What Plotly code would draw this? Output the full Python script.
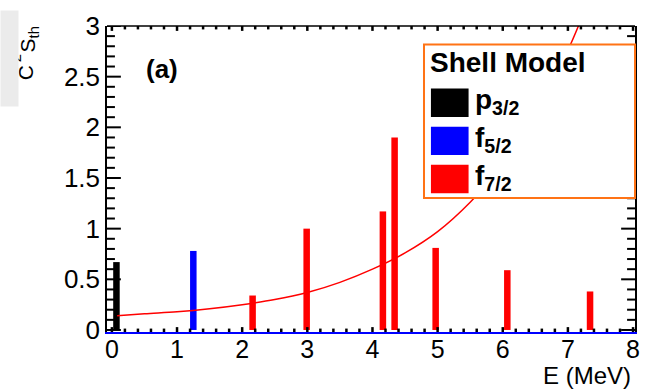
import plotly.graph_objects as go

# Shell-model spectroscopic strengths, by orbital
p32_E = [0.07]
p32_S = [0.67]
f52_E = [1.25]
f52_S = [0.78]
f72_E = [2.16, 2.99, 4.16, 4.34, 4.97, 6.07, 7.34]
f72_S = [0.34, 1.00, 1.17, 1.90, 0.81, 0.59, 0.38]

# Threshold curve
curve_E = [0.08, 0.5, 1.0, 1.5, 2.0, 2.5, 3.0, 3.5, 4.0, 4.5, 5.0, 5.5, 6.0, 6.5, 7.0, 7.3]
curve_S = [0.14, 0.16, 0.18, 0.21, 0.25, 0.30, 0.37, 0.47, 0.60, 0.76, 0.97, 1.26, 1.63, 2.12, 2.76, 3.22]

legend_title = "Shell Model"
legend_labels = ["p<sub>3/2</sub>", "f<sub>5/2</sub>", "f<sub>7/2</sub>"]
legend_colors = ["#000000", "#0000ff", "#ff0000"]

X_RANGE = [-0.075, 8.03]
Y_RANGE = [-0.02, 3.0]

W, H = 651, 389
L, R, T, B = 107, 11, 19, 57
PW, PH = W - L - R, H - T - B
FONT = "Liberation Sans, Arial, Helvetica, sans-serif"

# axis units per pixel
UX = (X_RANGE[1] - X_RANGE[0]) / PW
UY = (Y_RANGE[1] - Y_RANGE[0]) / PH


def px(x):
    return (x - L) / PW


def py(y):
    return (H - B - y) / PH


fig = go.Figure()
for E, S, c in [(p32_E, p32_S, "#000000"), (f52_E, f52_S, "#0000ff"), (f72_E, f72_S, "#ff0000")]:
    fig.add_trace(go.Bar(x=E, y=S, width=0.1, marker=dict(color=c, line=dict(width=0)),
                         showlegend=False))

fig.add_trace(go.Scatter(x=curve_E, y=curve_S, mode="lines",
                         line=dict(color="#ff0000", width=1.5, shape="spline"), showlegend=False))

# frame tick marks, drawn inward on all four sides
ytx, yty = [], []
for i in range(0, 31):
    v = round(i * 0.1, 1)
    ln = (14 if i % 5 == 0 else 8) * UX
    ytx += [X_RANGE[0], X_RANGE[0] + ln, None, X_RANGE[1], X_RANGE[1] - ln, None]
    yty += [v, v, None, v, v, None]
xtx, xty = [], []
for i in range(0, 41):
    v = round(i * 0.2, 1)
    ln = (5 if i % 5 == 0 else 3.5) * UY
    xtx += [v, v, None, v, v, None]
    xty += [Y_RANGE[0], Y_RANGE[0] + ln, None, Y_RANGE[1], Y_RANGE[1] - ln, None]
fig.add_trace(go.Scatter(x=ytx, y=yty, mode="lines", line=dict(color="black", width=2),
                         hoverinfo="skip", showlegend=False))
fig.add_trace(go.Scatter(x=xtx, y=xty, mode="lines", line=dict(color="black", width=2.5),
                         hoverinfo="skip", showlegend=False))

fig.update_layout(
    width=W, height=H,
    margin=dict(l=L, r=R, t=T, b=B),
    plot_bgcolor="white", paper_bgcolor="white",
    barmode="overlay",
    font=dict(family=FONT, color="black", size=22),
    xaxis=dict(range=X_RANGE, showgrid=False, zeroline=False,
               showline=True, linecolor="#0000ff", linewidth=2, mirror=False,
               ticks="inside", ticklen=4, tickcolor="rgba(0,0,0,0)",
               tick0=0, dtick=1, tickfont=dict(size=25), ticklabelstandoff=-6),
    yaxis=dict(range=Y_RANGE, showgrid=False, zeroline=False,
               showline=True, linecolor="black", linewidth=1.5, mirror=True,
               ticks="inside", ticklen=13, tickcolor="rgba(0,0,0,0)",
               tick0=0, dtick=0.5, tickfont=dict(size=26)),
)

shapes = [
    # top frame edge
    dict(type="line", xref="paper", yref="paper", x0=0, x1=1, y0=1, y1=1,
         line=dict(color="black", width=1.5), layer="above"),
    # legend box
    dict(type="rect", xref="paper", yref="paper", x0=px(427), x1=px(640), y0=py(195), y1=py(38),
         fillcolor="white", line=dict(color="#ff7315", width=2), layer="above"),
]
sw_top = [83, 122, 161]
for top, col in zip(sw_top, legend_colors):
    shapes.append(dict(type="rect", xref="paper", yref="paper", x0=px(434), x1=px(472),
                       y0=py(top + 29), y1=py(top), fillcolor=col, line=dict(width=0), layer="above"))

annotations = [
    dict(text="<b>" + legend_title + "</b>", xref="paper", yref="paper", x=px(431), y=py(56),
         xanchor="left", yanchor="middle", showarrow=False, font=dict(size=28)),
    dict(text="<b>(a)</b>", xref="paper", yref="paper", x=px(163), y=py(63),
         xanchor="center", yanchor="middle", showarrow=False, font=dict(size=26)),
    dict(text="E (MeV)", xref="paper", yref="paper", x=px(638), y=py(376),
         xanchor="right", yanchor="middle", showarrow=False, font=dict(size=24)),
    # rotated axis title C^2 S_th, built from its parts
    dict(text="C", xref="paper", yref="paper", x=px(25), y=py(66.5),
         xanchor="center", yanchor="middle", textangle=-90, showarrow=False, font=dict(size=21)),
    dict(text="2", xref="paper", yref="paper", x=px(14), y=py(52),
         xanchor="center", yanchor="middle", textangle=-90, showarrow=False, font=dict(size=15)),
    dict(text="S<sub>th</sub>", xref="paper", yref="paper", x=px(28), y=py(33),
         xanchor="center", yanchor="middle", textangle=-90, showarrow=False, font=dict(size=21)),
    # grey panel at the left edge
    dict(text=" ", xref="paper", yref="paper", x=px(8.5), y=py(52.5), width=17, height=95,
         bgcolor="#ebebeb", borderpad=0, xanchor="center", yanchor="middle", showarrow=False),
]
for top, lab in zip(sw_top, legend_labels):
    annotations.append(dict(text="<b>" + lab + "</b>", xref="paper", yref="paper", x=px(476), y=py(top + 13),
                            xanchor="left", yanchor="middle", showarrow=False, font=dict(size=28)))

fig.update_layout(shapes=shapes, annotations=annotations)

fig.write_html("out.html")
